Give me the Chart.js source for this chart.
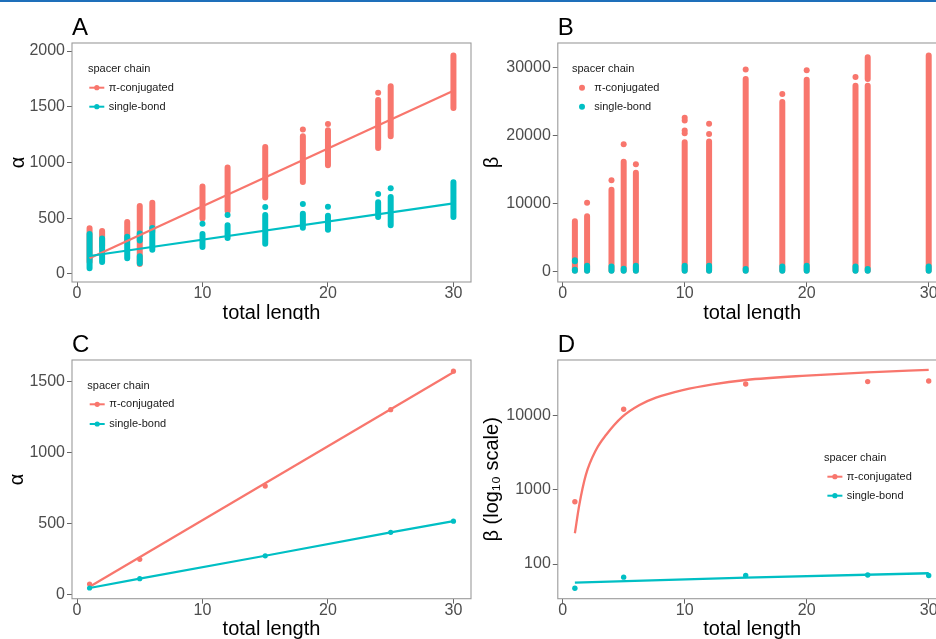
<!DOCTYPE html>
<html>
<head>
<meta charset="utf-8">
<script src="https://cdn.jsdelivr.net/npm/chart.js@4.4.1/dist/chart.umd.min.js"></script>
<style>
  html, body { margin: 0; padding: 0; background: #fff; overflow: hidden; }
  #wrap { position: relative; width: 936px; height: 639px; overflow: hidden; background: #fff; }
  #topbar { position: absolute; left: 0; top: 0; width: 936px; height: 2px; background: #1e6fba; }
  canvas { position: absolute; }
</style>
</head>
<body>
<div id="wrap">
  <canvas id="cA" width="480" height="320" style="left:0px;top:0px"></canvas>
  <canvas id="cB" width="480" height="320" style="left:480px;top:0px"></canvas>
  <canvas id="cC" width="480" height="319" style="left:0px;top:320px"></canvas>
  <canvas id="cD" width="480" height="319" style="left:480px;top:320px"></canvas>
  <div id="topbar"></div>
</div>
<script>
// ---------- shared ----------
const seriesNames = ['π-conjugated', 'single-bond'];
const legendTitle = 'spacer chain';
const xTicks = [0, 10, 20, 30];

// ---------- Panel A : alpha, all samples ----------
const aRedX  = [1, 2, 4, 5, 6, 10, 12, 15, 18, 20, 24, 25, 30];
const aRedLo = [110, 250, 300, 90, 380, 497, 565, 687, 825, 975, 1130, 1235, 1490];
const aRedHi = [410, 385, 466, 610, 640, 785, 955, 1140, 1235, 1290, 1560, 1685, 1960];
const aRedOutX = [18, 20, 24];
const aRedOutY = [1297, 1345, 1626];
const aBlueX  = [1, 2, 4, 5, 5, 6, 10, 12, 15, 18, 20, 24, 25, 30];
const aBlueLo = [52, 107, 142, 97, 300, 217, 242, 322, 272, 415, 397, 511, 437, 511];
const aBlueHi = [358, 318, 333, 160, 363, 413, 358, 438, 528, 541, 523, 643, 690, 822];
const aBlueOutX = [10, 12, 15, 18, 20, 24, 25];
const aBlueOutY = [450, 530, 600, 628, 604, 717, 768];
const aFitX = [1, 30];
const aRedFit = [141, 1644];
const aBlueFit = [161, 634];
const aYTicks = [0, 500, 1000, 1500, 2000];

// ---------- Panel B : beta, all samples ----------
const bRedX  = [1, 2, 4, 5, 6, 10, 12, 15, 18, 20, 24, 25, 25, 30];
const bRedLo = [100, 100, 100, 100, 100, 100, 100, 100, 100, 100, 100, 100, 28300, 100];
const bRedHi = [7340, 8100, 12000, 16100, 14480, 19000, 19100, 28300, 24900, 28200, 27300, 27300, 31500, 31750];
const bRedOutX = [2, 4, 5, 6, 10, 10, 10, 10, 12, 12, 15, 18, 20, 24];
const bRedOutY = [10090, 13400, 18700, 15760, 22600, 22200, 20700, 20300, 21700, 20200, 29700, 26100, 29600, 28600];
const bBlueX  = [1, 1, 2, 4, 5, 6, 10, 12, 15, 18, 20, 24, 25, 30];
const bBlueLo = [50, 1450, 50, 50, 50, 50, 50, 50, 50, 50, 50, 50, 50, 50];
const bBlueHi = [200, 1600, 780, 700, 340, 780, 780, 780, 300, 690, 780, 690, 300, 690];
const bYTicks = [0, 10000, 20000, 30000];

// ---------- Panel C : alpha, summary ----------
const cX = [1, 5, 15, 25, 30];
const cRed = [72, 246, 762, 1301, 1572];
const cBlue = [44, 110, 271, 436, 515];
const cRedFitX = [1, 30];
const cRedFit = [53, 1565];
const cYTicks = [0, 500, 1000, 1500];

// ---------- Panel D : beta (log), summary ----------
const dX = [1, 5, 15, 25, 30];
const dRed = [695, 12300, 27000, 29100, 29700];
const dBlue = [47, 66.5, 70, 71, 70];
const dRedCurveX = [1, 1.36, 1.9, 2.73, 3.55, 4.9, 6.3, 7.65, 9.84, 12.3, 15, 20, 25, 30];
const dRedCurve  = [260, 627, 1600, 3470, 5530, 9800, 14100, 17700, 22400, 26800, 30600, 35100, 38900, 41800];
const dBlueFitX = [1, 15, 30];
const dBlueFit  = [56, 65.5, 75];
const dYTicks = [100, 1000, 10000];

// ---------- helpers ----------
const RED = '#F8766D', BLUE = '#00BFC4';
const FONT = '"Liberation Sans", Arial, Helvetica, sans-serif';
Chart.defaults.font.family = FONT;

const pts = (xs, ys) => xs.map((x, i) => ({x: x, y: ys[i]}));
function strips(xs, lo, hi) {
  const d = [];
  xs.forEach((x, i) => { d.push({x: x, y: lo[i]}, {x: x, y: hi[i]}, {x: x, y: null}); });
  return d;
}
function stripSet(data, color, order) {
  return { data: data, showLine: true, spanGaps: false, borderColor: color, borderWidth: 6,
           borderCapStyle: 'round', pointRadius: 0, order: order };
}
function dotSet(data, color, r, order) {
  return { data: data, showLine: false, pointRadius: r, pointBorderWidth: 0,
           backgroundColor: color, pointBackgroundColor: color, order: order };
}
function lineSet(data, color, w, order, smooth) {
  const s = { data: data, showLine: true, borderColor: color, borderWidth: w, pointRadius: 0, order: order };
  if (smooth) s.cubicInterpolationMode = 'monotone';
  return s;
}

function xAxis(h, max, titlePadBottom) {
  return {
    type: 'linear', min: -0.4, max: max,
    afterBuildTicks: s => { s.ticks = xTicks.map(v => ({value: v})); },
    afterFit: s => { s.height = h; },
    grid: { display: true, drawOnChartArea: false, drawTicks: true, tickLength: 5, tickColor: '#666', tickWidth: 1 },
    border: { display: false },
    ticks: { color: '#4d4d4d', font: { size: 16, lineHeight: 1 }, padding: -1, maxRotation: 0, autoSkip: false },
    title: { display: true, text: 'total length', color: '#000', font: { size: 20, lineHeight: 1 },
             padding: { top: 0, bottom: titlePadBottom } }
  };
}
function yAxis(w, min, max, ticks, title, titlePadTop, log) {
  return {
    type: log ? 'logarithmic' : 'linear', min: min, max: max,
    afterBuildTicks: s => { s.ticks = ticks.map(v => ({value: v})); },
    afterFit: s => { s.width = w; },
    grid: { display: true, drawOnChartArea: false, drawTicks: true, tickLength: 5, tickColor: '#666', tickWidth: 1 },
    border: { display: false },
    ticks: { color: '#4d4d4d', font: { size: 16 }, padding: 2, autoSkip: false,
             callback: v => String(v) },
    title: { display: true, text: title, color: '#000', font: { size: 20, lineHeight: 1 },
             padding: { top: titlePadTop, bottom: 0 } }
  };
}

const decor = {
  id: 'decor',
  afterDatasetsDraw(chart, args, o) {
    const ctx = chart.ctx, ca = chart.chartArea;
    ctx.save();
    ctx.strokeStyle = '#9b9b9b';
    ctx.lineWidth = 1.1;
    ctx.strokeRect(ca.left, ca.top, ca.right - ca.left, ca.bottom - ca.top);
    // panel letter
    ctx.fillStyle = '#000';
    ctx.font = '24px ' + FONT;
    ctx.textAlign = 'left';
    ctx.textBaseline = 'alphabetic';
    ctx.fillText(o.letter, ca.left, ca.top - 8);
    // legend
    const L = o.legend;
    ctx.font = '11px ' + FONT;
    ctx.textBaseline = 'middle';
    ctx.fillStyle = '#1a1a1a';
    ctx.fillText(legendTitle, ca.left + L.tx, ca.top + L.ty);
    [RED, BLUE].forEach((c, i) => {
      const y = ca.top + L.ys[i], mx = ca.left + L.mx;
      if (L.line) {
        ctx.strokeStyle = c; ctx.lineWidth = 2;
        ctx.beginPath(); ctx.moveTo(mx - 7.5, y); ctx.lineTo(mx + 7.5, y); ctx.stroke();
        ctx.fillStyle = c; ctx.beginPath(); ctx.arc(mx, y, 2.6, 0, Math.PI * 2); ctx.fill();
      } else {
        ctx.fillStyle = c; ctx.beginPath(); ctx.arc(mx, y, 3, 0, Math.PI * 2); ctx.fill();
      }
      ctx.fillStyle = '#1a1a1a';
      ctx.fillText(seriesNames[i], ca.left + L.textX, y);
    });
    ctx.restore();
  }
};

function make(id, datasets, scales, padding, decorOpts) {
  return new Chart(document.getElementById(id), {
    type: 'scatter',
    data: { datasets: datasets },
    options: {
      responsive: false, animation: false, devicePixelRatio: 1,
      layout: { padding: padding },
      plugins: { legend: { display: false }, tooltip: { enabled: false }, decor: decorOpts },
      scales: scales
    },
    plugins: [decor]
  });
}

// Panel A
make('cA', [
  lineSet(pts(aFitX, aBlueFit), BLUE, 2.2, 1),
  lineSet(pts(aFitX, aRedFit), RED, 2.2, 2),
  stripSet(strips(aBlueX, aBlueLo, aBlueHi), BLUE, 3),
  dotSet(pts(aBlueOutX, aBlueOutY), BLUE, 3, 3),
  stripSet(strips(aRedX, aRedLo, aRedHi), RED, 4),
  dotSet(pts(aRedOutX, aRedOutY), RED, 3, 4)
], {
  x: xAxis(38, 31.4, -3),
  y: yAxis(72, -72, 2072, aYTicks, 'α', 8.3, false)
}, { top: 43, right: 9, left: 0, bottom: 0 },
{ letter: 'A', legend: { line: true, tx: 16, ty: 26.3, mx: 24.8, textX: 36.7, ys: [44.7, 63.7] } });

// Panel B
make('cB', [
  stripSet(strips(bBlueX, bBlueLo, bBlueHi), BLUE, 1),
  stripSet(strips(bRedX, bRedLo, bRedHi), RED, 2),
  dotSet(pts(bRedOutX, bRedOutY), RED, 3, 2)
], {
  x: xAxis(38, 31.45, -3),
  y: yAxis(77.8, -1600, 33600, bYTicks, 'β', 2, false)
}, { top: 43, right: 13.6, left: 0, bottom: 0 },
{ letter: 'B', legend: { line: false, tx: 14.2, ty: 26.3, mx: 24.2, textX: 36.5, ys: [44.7, 63.7] } });

// Panel C
make('cC', [
  lineSet(pts(cX, cBlue), BLUE, 2.2, 1),
  dotSet(pts(cX, cBlue), BLUE, 2.6, 1),
  lineSet(pts(cRedFitX, cRedFit), RED, 2.2, 2),
  dotSet(pts(cX, cRed), RED, 2.6, 3)
], {
  x: xAxis(40.3, 31.4, 0),
  y: yAxis(72, -31.5, 1651, cYTicks, 'α', 7.5, false)
}, { top: 40, right: 9, left: 0, bottom: 0 },
{ letter: 'C', legend: { line: true, tx: 15.3, ty: 26, mx: 25.2, textX: 37.3, ys: [44.3, 64] } });

// Panel D
make('cD', [
  lineSet(pts(dBlueFitX, dBlueFit), BLUE, 2.3, 1),
  dotSet(pts(dX, dBlue), BLUE, 2.7, 1),
  lineSet(pts(dRedCurveX, dRedCurve), RED, 2.3, 2, true),
  dotSet(pts(dX, dRed), RED, 2.7, 3)
], {
  x: xAxis(40.3, 31.45, 0),
  y: yAxis(77.8, 34, 57000, dYTicks, 'β (log₁₀ scale)', 2, true)
}, { top: 40, right: 13.6, left: 0, bottom: 0 },
{ letter: 'D', legend: { line: true, tx: 266.2, ty: 97.7, mx: 277.1, textX: 288.9, ys: [116.7, 135.7] } });
</script>
</body>
</html>
